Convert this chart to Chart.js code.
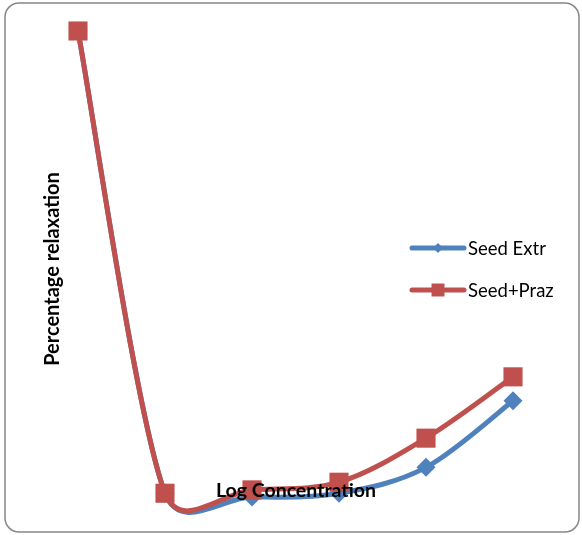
<!DOCTYPE html>
<html>
<head>
<meta charset="utf-8">
<script src="https://cdn.jsdelivr.net/npm/chart.js@4.4.1/dist/chart.umd.min.js"></script>
<style>
  html, body { margin: 0; padding: 0; background: #fff; }
  canvas { display: block; }
</style>
</head>
<body>
<canvas id="relaxChart" width="582" height="535"></canvas>
<script>
// log concentration steps (category axis, not shown)
const concentrations = ['1', '2', '3', '4', '5', '6'];
// percentage relaxation
const seedExtr = [100, 3.5, 2.7, 3.5, 8.9, 22.8];
const seedPraz = [100, 3.5, 4.2, 5.8, 15.0, 27.8];

const BLUE = '#4F81BD';
const RED = '#C0504D';
const FONT = 'Lato, "Liberation Sans", sans-serif';

// Excel-like smoothing: control vectors of 1/6, capped at half the segment length
const excelSmooth = {
    id: 'excelSmooth',
    beforeDatasetDraw(chart, args) {
        const meta = args.meta;
        const pts = meta.data;
        meta.dataset.updateControlPoints(chart.chartArea, meta.indexAxis);
        const dist = (a, b) => Math.hypot(b.x - a.x, b.y - a.y);
        for (let i = 0; i < pts.length - 1; i++) {
            const p0 = pts[Math.max(i - 1, 0)];
            const p1 = pts[i];
            const p2 = pts[i + 1];
            const p3 = pts[Math.min(i + 2, pts.length - 1)];
            const d12 = dist(p1, p2);
            const d02 = dist(p0, p2);
            const d13 = dist(p1, p3);
            const f1 = d02 / 6 < d12 / 2 ? 1 / 6 : d12 / 2 / d02;
            const f2 = d13 / 6 < d12 / 2 ? 1 / 6 : d12 / 2 / d13;
            p1.cp2x = p1.x + (p2.x - p0.x) * f1;
            p1.cp2y = p1.y + (p2.y - p0.y) * f1;
            p2.cp1x = p2.x - (p3.x - p1.x) * f2;
            p2.cp1y = p2.y - (p3.y - p1.y) * f2;
        }
        delete meta.dataset._path;
    }
};

// rounded frame, axis titles and the legend drawn by hand (legend sits inside the plot)
const decorations = {
    id: 'decorations',
    beforeDraw(chart) {
        const ctx = chart.ctx;
        ctx.save();
        ctx.strokeStyle = '#878787';
        ctx.lineWidth = 1.5;
        ctx.beginPath();
        ctx.roundRect(5, 3, 574, 529, 14);
        ctx.stroke();
        ctx.restore();
    },
    afterDraw(chart) {
        const ctx = chart.ctx;
        ctx.save();
        ctx.fillStyle = '#000';
        ctx.font = 'bold 19.5px ' + FONT;
        ctx.textAlign = 'center';
        ctx.textBaseline = 'middle';
        ctx.fillText('Log Concentration', 296, 491);

        ctx.font = 'bold 20px ' + FONT;
        ctx.translate(53, 269);
        ctx.rotate(-Math.PI / 2);
        ctx.fillText('Percentage relaxation', 0, 0);
        ctx.restore();

        // legend
        const rows = [248, 290];
        const sizes = [5, 9];
        chart.data.datasets.forEach((ds, i) => {
            const y = rows[i];
            ctx.save();
            ctx.strokeStyle = ds.borderColor;
            ctx.lineWidth = 5;
            ctx.lineCap = 'round';
            ctx.beginPath();
            ctx.moveTo(412, y);
            ctx.lineTo(464, y);
            ctx.stroke();
            ctx.fillStyle = ds.backgroundColor;
            ctx.beginPath();
            if (ds.pointStyle === 'rectRot') {
                const s = sizes[i];
                ctx.moveTo(438, y - s);
                ctx.lineTo(438 + s, y);
                ctx.lineTo(438, y + s);
                ctx.lineTo(438 - s, y);
                ctx.closePath();
            } else {
                const s = sizes[i] * 0.72;
                ctx.rect(438 - s, y - s, 2 * s, 2 * s);
            }
            ctx.fill();
            ctx.fillStyle = '#000';
            ctx.font = '18.5px ' + FONT;
            ctx.textAlign = 'left';
            ctx.textBaseline = 'middle';
            ctx.fillText(ds.label, 468, y + 1);
            ctx.restore();
        });
    }
};

new Chart(document.getElementById('relaxChart').getContext('2d'), {
    type: 'line',
    data: {
        labels: concentrations,
        datasets: [{
            label: 'Seed Extr',
            data: seedExtr,
            borderColor: BLUE,
            backgroundColor: BLUE,
            borderWidth: 5,
            pointStyle: 'rectRot',
            pointRadius: 9.5,
            pointBorderWidth: 0,
            tension: 0.4,
            order: 1,
            clip: false
        }, {
            label: 'Seed+Praz',
            data: seedPraz,
            borderColor: RED,
            backgroundColor: RED,
            borderWidth: 5,
            pointStyle: 'rect',
            pointRadius: 13.5,
            pointBorderWidth: 0,
            tension: 0.4,
            order: 0,
            clip: false
        }]
    },
    options: {
        responsive: false,
        devicePixelRatio: 1,
        animation: false,
        layout: {
            padding: { left: 78, right: 69, top: 31, bottom: 25 }
        },
        scales: {
            x: { display: false, offset: false },
            y: { display: false, min: 0, max: 100 }
        },
        plugins: {
            legend: { display: false },
            tooltip: { enabled: false }
        }
    },
    plugins: [excelSmooth, decorations]
});
</script>
</body>
</html>
